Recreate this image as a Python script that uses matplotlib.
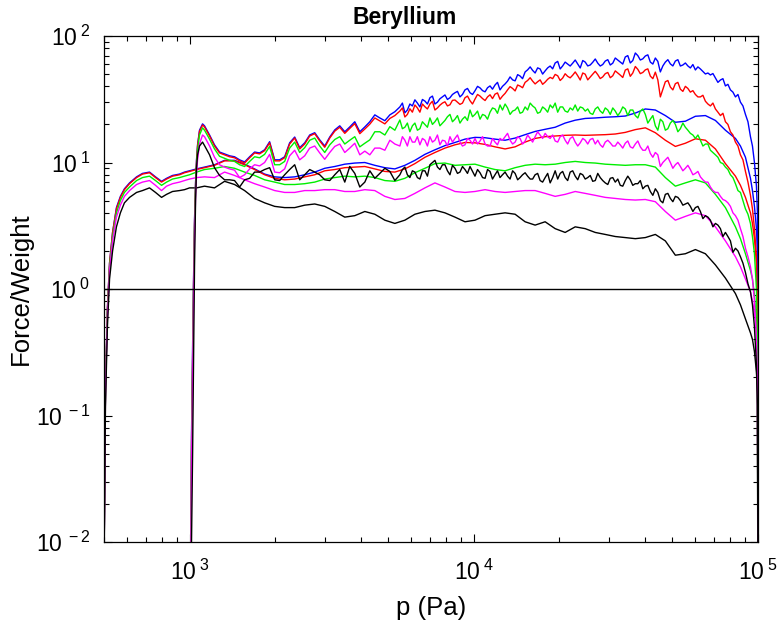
import matplotlib
matplotlib.use("Agg")
import math
import matplotlib.pyplot as plt
from matplotlib.ticker import FixedLocator, LogLocator, FuncFormatter, NullFormatter

plt.rcParams['font.family'] = ['Liberation Sans', 'DejaVu Sans']
plt.rcParams['mathtext.fontset'] = 'custom'
plt.rcParams['mathtext.rm'] = 'Liberation Sans'
plt.rcParams['mathtext.it'] = 'Liberation Sans:italic'
plt.rcParams['mathtext.bf'] = 'Liberation Sans:bold'

title = "Beryllium"
xlabel = "p (Pa)"
ylabel = "Force/Weight"
colors = ["#0000ff", "#ff0000", "#00ee00", "#ff00ff", "#000000"]

# ---- group A: smooth curves starting at 500 Pa ----
p_A = [500, 506, 514, 523, 536, 553, 571, 590, 615, 651,
       683, 723, 759, 797, 830, 871, 922, 960, 1000, 1058,
       1129, 1224, 1328, 1440, 1562, 1694, 1837, 1993, 2161, 2344,
       2542, 2757, 2990, 3243, 3517, 3814, 4137, 4486, 4866, 5277,
       5723, 6207, 6732, 7301, 7918, 8588, 9314, 10100, 10960, 11880,
       12890, 13980, 15160, 16440, 17830, 19340, 20970, 22750, 24670, 26760,
       29020, 31470, 34130, 37020, 40150, 43540, 47220, 51210, 55530, 60230,
       65320, 70840, 76820, 83320, 86760, 90360, 94100, 95630, 97190, 98770,
       99570, 100000]

blue_A = [0.006, 0.17, 0.7, 1.6, 2.8, 4.4, 5.4, 6.2, 6.9, 7.7,
          8.2, 8.4, 7.7, 7.1, 7.5, 7.9, 8.1, 8.4, 8.6, 8.9,
          9.2, 9.6, 10.4, 10.4, 9.7, 8.9, 8.1, 7.7, 7.6, 7.7,
          8.0, 8.4, 9.0, 9.3, 9.7, 9.9, 10.0, 9.5, 9.1, 8.9,
          9.5, 10.4, 11.6, 12.6, 13.6, 14.4, 15.3, 15.8, 15.7, 15.3,
          15.0, 15.6, 16.6, 17.6, 18.3, 19.0, 20.5, 21.6, 22.3, 22.5,
          22.8, 23.0, 23.3, 24.6, 26.5, 26.0, 23.5, 20.8, 21.2, 23.2,
          23.5, 21.5, 18.0, 15.5, 13.5, 11.0, 7.5, 6.0, 4.5, 3.0,
          2.0, 0.001]

red_A = [0.006, 0.17, 0.7, 1.6, 2.8, 4.3, 5.3, 6.1, 6.8, 7.6,
         8.1, 8.3, 7.6, 7.0, 7.4, 7.8, 8.0, 8.3, 8.5, 8.8,
         9.1, 9.5, 10.3, 10.3, 9.6, 8.8, 8.0, 7.5, 7.3, 7.4,
         7.7, 8.0, 8.6, 8.8, 9.1, 9.2, 9.3, 8.9, 8.5, 8.4,
         8.9, 9.8, 11.0, 12.0, 13.0, 13.8, 14.4, 14.3, 13.9, 13.3,
         12.8, 13.3, 14.5, 15.5, 16.0, 16.2, 16.4, 16.5, 16.4, 16.5,
         16.6, 16.8, 17.3, 18.2, 18.8, 17.2, 15.0, 13.4, 14.2, 15.4,
         15.0, 12.8, 9.8, 7.8, 6.6, 5.3, 4.0, 3.3, 2.5, 1.6,
         1.0, 0.001]

green_A = [0.006, 0.16, 0.65, 1.5, 2.6, 4.0, 5.0, 5.8, 6.4, 7.2,
           7.6, 7.8, 7.2, 6.6, 7.0, 7.4, 7.6, 7.8, 8.0, 8.4,
           8.8, 9.0, 9.3, 9.0, 8.4, 7.9, 7.3, 7.0, 6.7, 6.7,
           6.8, 7.0, 7.4, 7.6, 7.8, 7.7, 7.8, 7.6, 7.2, 7.1,
           7.5, 8.3, 9.0, 9.8, 9.9, 9.5, 9.6, 9.7, 9.2, 8.8,
           8.6, 9.1, 9.5, 9.7, 9.6, 9.7, 10.0, 10.2, 10.0, 9.9,
           9.7, 9.6, 9.5, 9.6, 9.6, 9.2, 7.6, 6.5, 6.9, 7.3,
           6.9, 5.6, 4.4, 3.1, 2.5, 1.9, 1.4, 1.2, 0.9, 0.55,
           0.3, 0.001]

magenta_A = [0.006, 0.15, 0.6, 1.4, 2.4, 3.7, 4.6, 5.4, 6.0, 6.7,
             7.0, 7.2, 6.6, 6.0, 6.5, 6.8, 7.0, 7.2, 7.4, 7.6,
             7.7, 7.6, 8.4, 7.9, 7.3, 6.8, 6.4, 6.0, 5.8, 5.8,
             6.0, 6.0, 6.1, 6.1, 5.9, 5.9, 6.1, 6.0, 5.4, 5.1,
             5.2, 5.7, 6.3, 6.9, 6.4, 5.9, 5.8, 5.9, 6.1, 5.9,
             5.8, 5.9, 6.0, 6.0, 5.7, 5.4, 5.6, 5.9, 5.7, 5.5,
             5.3, 5.2, 5.1, 5.05, 5.1, 4.9, 4.1, 3.5, 3.75, 4.0,
             3.8, 3.1, 2.4, 1.8, 1.5, 1.2, 0.95, 0.8, 0.65, 0.5,
             0.35, 0.001]

black_A = [0.006, 0.12, 0.5, 1.2, 2.0, 3.1, 4.0, 4.8, 5.3, 5.8,
           6.0, 6.3, 5.8, 5.3, 5.6, 5.9, 6.0, 6.1, 6.3, 6.3,
           6.5, 6.3, 7.1, 6.7, 6.0, 5.2, 4.8, 4.5, 4.4, 4.4,
           4.6, 4.7, 4.5, 4.1, 3.7, 3.8, 4.1, 3.9, 3.5, 3.3,
           3.5, 3.9, 4.1, 4.2, 4.0, 3.7, 3.4, 3.5, 3.8, 3.9,
           4.0, 3.9, 3.4, 3.2, 3.4, 3.0, 2.8, 3.1, 3.0, 2.8,
           2.7, 2.6, 2.55, 2.5, 2.55, 2.7, 2.4, 1.85, 1.9, 2.05,
           1.9, 1.55, 1.22, 0.92, 0.75, 0.58, 0.45, 0.4, 0.32, 0.22,
           0.15, 0.001]

# ---- group B: noisy curves starting at ~1000 Pa ----
p_B = [1008, 1016, 1025, 1033, 1041, 1050, 1058, 1067, 1084, 1111,
       1129, 1176, 1224, 1275, 1328, 1383, 1440, 1500, 1562, 1627,
       1694, 1764, 1837, 1913, 1993, 2075, 2161, 2250, 2344, 2441,
       2542, 2647, 2757, 2871, 2990, 3114, 3243, 3377, 3517, 3662,
       3814, 3972, 4137, 4308, 4486, 4672, 4866, 5067, 5277, 5496,
       5723, 5960, 6207, 6464, 6732, 7011, 7301, 7603, 7918, 8246,
       8588, 8943, 9314, 9700, 10100, 10520, 10960, 11410, 11880, 12370,
       12890, 13420, 13980, 14550, 15160, 15790, 16440, 17120, 17830, 18570,
       19340, 20140, 20970, 21840, 22750, 23690, 24670, 25690, 26760, 27860,
       29020, 30220, 31470, 32770, 34130, 35540, 37020, 38550, 40150, 41810,
       43540, 45340, 47220, 49170, 51210, 53330, 55530, 57830, 60230, 62720,
       65320, 68020, 70840, 73770, 76820, 80000, 83320, 86760, 90360, 94100,
       95630, 97190, 98770, 99570, 100000]

blue_B = [0.004, 0.07, 0.35, 1.2, 3.5, 7.0, 10.5, 13.8, 18.0, 20.2,
          19.5, 16.5, 13.8, 12.1, 11.7, 11.3, 11.1, 10.5, 10.1, 11.1,
          12.1, 11.9, 12.6, 14.6, 10.5, 10.5, 11.1, 14.3, 15.9, 13.1,
          14.3, 16.5, 17.2, 15.1, 13.5, 15.9, 18.1, 19.5, 17.5, 19.1,
          21.0, 17.5, 19.1, 21.0, 23.8, 22.5, 21.4, 23.8, 25.2, 27.5,
          24.7, 29.0, 31.3, 27.5, 30.6, 32.5, 29.0, 31.9, 34.2, 32.5,
          35.6, 33.0, 37.5, 35.6, 36.9, 38.9, 36.2, 40.3, 41.0, 37.5,
          41.8, 47.5, 44.2, 48.3, 52.0, 57.0, 51.0, 54.9, 53.0, 57.9,
          61.2, 54.9, 62.2, 57.9, 64.6, 55.9, 62.2, 59.0, 65.8, 57.9,
          63.4, 59.0, 67.0, 62.2, 68.3, 61.2, 73.4, 64.6, 69.5, 62.2,
          67.0, 52.0, 62.2, 60.2, 63.4, 57.9, 61.2, 55.9, 53.9, 54.9,
          50.1, 49.2, 46.6, 44.9, 40.3, 37.5, 33.0, 30.0, 24.0, 16.0,
          13.5, 10.0, 6.5, 4.0, 0.05]

red_B = [0.004, 0.06, 0.3, 1.1, 3.3, 6.8, 10.2, 13.5, 17.6, 19.8,
         19.1, 16.2, 13.5, 11.9, 11.5, 11.1, 10.9, 10.3, 9.9, 10.9,
         11.9, 11.7, 12.4, 14.3, 10.3, 10.3, 10.9, 14.0, 15.6, 12.8,
         14.0, 16.2, 16.9, 14.8, 13.2, 15.6, 17.7, 19.0, 17.0, 18.6,
         20.3, 16.9, 18.4, 20.1, 22.5, 21.3, 20.2, 22.3, 23.5, 25.5,
         22.9, 26.6, 28.5, 25.0, 27.6, 29.0, 26.0, 28.4, 30.2, 28.6,
         31.2, 28.8, 32.5, 30.8, 31.7, 33.5, 30.9, 34.3, 34.7, 31.6,
         35.2, 39.8, 36.8, 40.2, 43.0, 46.8, 41.8, 45.0, 43.2, 47.1,
         49.7, 44.5, 50.3, 46.7, 52.0, 44.9, 49.9, 47.4, 52.6, 46.1,
         50.4, 46.8, 53.0, 49.1, 53.8, 48.0, 57.4, 50.4, 54.0, 48.2,
         51.8, 33.0, 43.5, 39.5, 42.0, 38.0, 40.0, 36.0, 34.5, 33.0,
         30.5, 28.0, 26.5, 23.5, 21.0, 17.5, 14.5, 11.5, 8.5, 5.5,
         4.3, 3.0, 1.8, 0.8, 0.02]

green_B = [0.004, 0.05, 0.25, 1.0, 3.0, 6.3, 9.5, 12.5, 16.5, 18.8,
           18.0, 15.3, 12.8, 11.2, 10.8, 10.4, 10.2, 9.6, 9.3, 10.2,
           11.1, 10.9, 11.6, 13.4, 9.6, 9.6, 10.2, 13.0, 14.5, 12.0,
           13.1, 15.0, 15.6, 13.5, 12.0, 13.8, 15.2, 16.0, 14.0, 15.0,
           16.0, 13.3, 14.2, 15.1, 17.5, 17.5, 16.5, 19.2, 18.0, 21.7,
           19.0, 17.5, 20.5, 18.5, 20.0, 22.5, 21.0, 19.5, 21.5, 24.0,
           22.0, 20.5, 23.0, 26.0, 24.0, 22.0, 23.5, 25.0, 26.5, 28.5,
           29.0, 24.0, 26.0, 24.5, 27.5, 29.5, 27.0, 25.0, 26.5, 28.5,
           29.5, 27.5, 25.5, 27.0, 28.5, 27.5, 25.5, 24.5, 26.5, 25.5,
           27.0, 24.0, 25.5, 25.0, 26.5, 26.0, 23.5, 25.5, 24.0, 22.0,
           19.5, 22.0, 18.0, 20.5, 20.0, 18.5, 19.0, 17.0, 15.5, 15.0,
           14.0, 12.5, 11.5, 10.0, 9.2, 8.0, 6.8, 5.8, 4.3, 3.3,
           2.6, 1.9, 1.0, 0.4, 0.01]

magenta_B = [0.004, 0.04, 0.2, 0.8, 2.5, 5.3, 8.0, 10.5, 14.0, 16.5,
             16.0, 13.5, 11.0, 9.6, 9.2, 8.9, 8.7, 7.6, 8.0, 8.9,
             9.6, 9.4, 10.0, 11.6, 8.4, 8.3, 8.9, 11.3, 12.5, 10.5,
             11.3, 13.0, 13.5, 11.9, 10.6, 12.0, 13.4, 14.0, 12.0, 13.0,
             14.2, 11.5, 12.3, 11.5, 13.0, 13.0, 12.5, 15.0, 14.0, 13.5,
             15.0, 16.0, 14.5, 13.8, 15.0, 16.0, 15.0, 13.8, 14.8, 16.0,
             15.5, 14.5, 13.8, 15.0, 15.5, 14.8, 14.0, 13.5, 14.5, 15.5,
             16.0, 15.0, 14.5, 15.5, 14.8, 15.5, 16.0, 16.5, 17.0, 15.5,
             14.8, 16.0, 15.0, 15.5, 14.5, 14.3, 15.0, 15.2, 14.0, 13.8,
             14.5, 14.3, 13.5, 13.8, 14.2, 13.3, 14.0, 13.3, 12.5, 11.8,
             12.0, 9.3, 10.5, 10.0, 9.6, 9.3, 9.0, 8.8, 8.2, 7.7,
             7.0, 6.4, 5.8, 5.4, 5.0, 4.5, 3.8, 3.0, 2.1, 1.5,
             1.2, 0.8, 0.4, 0.2, 0.01]

black_B = [0.004, 0.01, 0.05, 0.3, 1.5, 5.0, 9.0, 11.5, 13.5, 14.5,
           13.6, 11.5, 9.1, 7.9, 7.3, 7.3, 7.2, 6.4, 7.3, 7.5,
           8.4, 8.4, 8.8, 9.1, 7.3, 7.2, 8.0, 8.8, 9.6, 7.3,
           8.0, 8.8, 8.4, 8.0, 7.3, 7.2, 8.0, 8.8, 7.0, 9.3,
           8.2, 6.4, 7.0, 8.6, 7.5, 8.2, 9.0, 8.5, 7.2, 8.0,
           9.2, 7.6, 8.4, 7.4, 8.6, 9.6, 10.4, 8.8, 9.6, 8.0,
           9.0, 8.4, 8.8, 9.3, 7.8, 8.3, 7.5, 8.5, 8.0, 7.6,
           8.4, 7.4, 8.2, 7.6, 8.3, 7.4, 8.0, 7.2, 7.6, 6.9,
           8.6, 8.2, 7.6, 8.4, 7.8, 8.2, 7.4, 7.9, 7.2, 7.6,
           6.9, 7.5, 7.0, 6.6, 7.2, 7.3, 6.8, 7.2, 6.5, 5.9,
           6.2, 5.0, 5.6, 5.2, 5.4, 5.0, 4.7, 4.5, 4.4, 4.1,
           3.8, 3.5, 3.3, 3.0, 2.8, 2.4, 2.1, 1.8, 1.35, 0.95,
           0.75, 0.5, 0.25, 0.12, 0.005]

# extra in-between readings of the noisy group (5.6 kPa .. 92 kPa)
p_Bm = [5609, 5840, 6082, 6334, 6597, 6870, 7155, 7451, 7759, 8080,
        8415, 8764, 9126, 9505, 9899, 10310, 10740, 11180, 11640, 12120,
        12620, 13150, 13700, 14270, 14850, 15470, 16110, 16780, 17470, 18200,
        18950, 19740, 20550, 21400, 22290, 23220, 24180, 25180, 26220, 27310,
        28430, 29620, 30840, 32120, 33440, 34830, 36270, 37780, 39340, 40970,
        42670, 44430, 46270, 48190, 50180, 52260, 54420, 56670, 59020, 61470,
        64010, 66660, 69420, 72290, 75280, 78390, 81640, 85030, 88540, 92210]

blue_Bm = [29.5, 26.0, 28.0, 29.5, 31.5, 29.0, 33.5, 30.0, 33.0, 31.5,
           34.5, 36.5, 34.5, 38.5, 34.5, 40.0, 37.0, 39.0, 38.0, 43.0,
           40.0, 44.0, 45.0, 49.5, 46.0, 54.0, 53.5, 56.0, 50.0, 56.0,
           55.0, 63.0, 58.0, 60.0, 61.0, 60.0, 64.0, 58.0, 62.0, 61.0,
           59.5, 65.0, 61.0, 64.5, 60.0, 70.0, 64.0, 70.0, 66.0, 71.0,
           60.0, 63.0, 58.0, 65.0, 58.0, 65.0, 59.0, 58.0, 59.5, 57.0,
           52.5, 51.0, 50.5, 43.0, 46.0, 41.5, 36.0, 34.5, 28.0, 21.0]

red_Bm = [27.0, 24.0, 25.0, 27.0, 29.0, 26.5, 30.5, 27.0, 29.5, 28.0,
          31.0, 30.0, 29.5, 33.5, 29.0, 34.5, 32.0, 33.0, 32.0, 35.5,
          33.5, 37.5, 38.5, 41.0, 39.0, 44.5, 44.0, 43.5, 41.5, 45.5,
          46.0, 48.5, 46.5, 48.0, 49.0, 48.5, 51.0, 45.0, 50.0, 49.5,
          47.5, 51.5, 48.5, 51.0, 47.0, 55.0, 51.0, 54.5, 51.5, 55.0,
          46.0, 45.0, 38.0, 44.5, 37.5, 43.0, 36.5, 38.5, 37.0, 33.0,
          34.0, 29.0, 29.5, 25.0, 24.5, 20.0, 16.5, 13.5, 10.5, 7.0]

green_Bm = [18.5, 20.5, 19.5, 18.0, 21.0, 19.0, 20.0, 22.5, 20.5, 23.0,
            21.0, 23.5, 22.0, 21.5, 23.0, 25.5, 24.0, 22.0, 27.0, 24.5,
            26.0, 27.0, 25.5, 27.5, 25.0, 26.0, 28.0, 24.5, 27.5, 25.0,
            27.0, 25.0, 27.5, 25.0, 26.0, 25.5, 27.0, 26.5, 24.0, 27.5,
            24.5, 26.0, 27.0, 23.5, 27.5, 23.5, 26.0, 22.5, 26.5, 20.5,
            23.5, 18.0, 21.0, 18.5, 21.5, 17.5, 20.5, 18.0, 16.5, 16.5,
            13.5, 14.0, 12.0, 11.0, 9.8, 8.8, 7.6, 6.0, 5.0, 3.9]

magenta_Bm = [16.0, 13.5, 14.5, 16.0, 15.5, 13.5, 14.5, 16.5, 15.0, 13.5,
              14.5, 16.5, 13.5, 15.5, 14.0, 14.0, 16.0, 13.5, 15.5, 13.8,
              15.0, 17.0, 14.0, 16.0, 14.0, 16.5, 14.5, 17.5, 15.5, 16.0,
              16.5, 14.5, 16.5, 14.0, 16.0, 13.5, 15.5, 14.0, 15.5, 15.0,
              13.2, 15.0, 13.5, 14.5, 13.0, 14.8, 13.0, 14.8, 12.5, 13.5,
              11.0, 11.5, 10.0, 11.0, 9.0, 10.0, 8.6, 9.5, 8.0, 8.5,
              7.3, 7.0, 6.0, 5.8, 5.1, 4.8, 4.0, 3.5, 2.6, 1.8]

black_Bm = [8.8, 8.0, 8.6, 7.6, 8.6, 7.8, 10.0, 9.2, 9.6, 8.6,
            9.5, 8.2, 9.3, 8.2, 8.5, 8.8, 7.6, 8.8, 7.4, 8.6,
            8.0, 7.8, 8.6, 7.3, 8.0, 7.8, 7.4, 8.2, 7.0, 8.2,
            7.6, 7.4, 8.5, 7.2, 8.6, 7.3, 8.0, 7.6, 7.1, 8.2,
            7.2, 6.7, 7.6, 7.4, 6.5, 7.8, 6.6, 6.8, 6.2, 6.6,
            5.5, 5.8, 4.8, 5.7, 4.9, 5.3, 4.6, 4.8, 4.1, 4.5,
            3.6, 3.7, 3.1, 3.2, 2.6, 2.6, 1.95, 2.0, 1.6, 1.1]

x_ticks = [1e3, 1e4, 1e5]
y_ticks = [1e-2, 1e-1, 1e0, 1e1, 1e2]

fig = plt.figure(figsize=(7.79, 6.24), dpi=100)
ax = fig.add_axes([0.1335, 0.1314, 0.8395, 0.8109])

lw = 1.0
groupA = [blue_A, red_A, green_A, magenta_A, black_A]
groupB = [(blue_B, blue_Bm), (red_B, red_Bm), (green_B, green_Bm),
          (magenta_B, magenta_Bm), (black_B, black_Bm)]
for vals, c in zip(groupA, colors):
    ax.plot(p_A, vals, color=c, lw=lw)
for (vals, mids), c in zip(groupB, colors):
    pts = sorted(list(zip(p_B, vals)) + list(zip(p_Bm, mids)))
    ax.plot([q[0] for q in pts], [q[1] for q in pts], color=c, lw=lw)
ax.axhline(1.0, color='black', lw=1.0)

ax.set_xscale('log')
ax.set_yscale('log')
ax.set_xlim(500, 1e5)
ax.set_ylim(1e-2, 1e2)

def fmt(v, pos):
    e = int(round(math.log10(v)))
    return r'$\mathregular{10^{\;%d}}$' % e

ax.xaxis.set_major_locator(FixedLocator(x_ticks))
ax.yaxis.set_major_locator(FixedLocator(y_ticks))
ax.xaxis.set_major_formatter(FuncFormatter(fmt))
ax.yaxis.set_major_formatter(FuncFormatter(fmt))
ax.xaxis.set_minor_locator(LogLocator(base=10, subs=range(2, 10)))
ax.yaxis.set_minor_locator(LogLocator(base=10, subs=range(2, 10)))
ax.xaxis.set_minor_formatter(NullFormatter())
ax.yaxis.set_minor_formatter(NullFormatter())
ax.tick_params(which='both', direction='in', top=True, right=True, width=0.8)
ax.tick_params(which='major', length=6, labelsize=16.5)
ax.tick_params(which='minor', length=3.5)
ax.tick_params(axis='x', which='major', pad=13)
ax.tick_params(axis='y', which='major', pad=10)
for s in ax.spines.values():
    s.set_linewidth(0.9)

ax.set_title(title, fontsize=16.5, fontweight='bold', pad=9, x=0.459)
ax.set_xlabel(xlabel, fontsize=18.5, labelpad=8)
ax.set_ylabel(ylabel, fontsize=18.5, labelpad=2)

fig.savefig("out.png", dpi=100)
